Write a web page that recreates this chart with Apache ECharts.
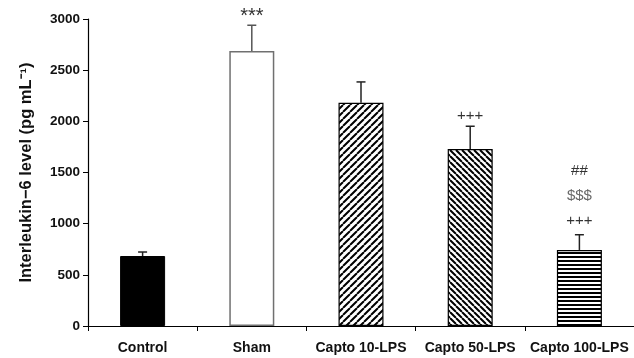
<!DOCTYPE html>
<html><head><meta charset="utf-8">
<script src="https://cdn.jsdelivr.net/npm/echarts@6/dist/echarts.min.js"></script>
<style>html,body{margin:0;padding:0;background:#fff}#c{width:634px;height:358px}</style>
</head><body><div id="c"></div>
<script>
const categories = ['Control', 'Sham', 'Capto 10-LPS', 'Capto 50-LPS', 'Capto 100-LPS'];
const means = [684, 2688, 2182, 1730, 743];
const errors = [39, 251, 203, 222, 149];
const yTicks = { min: 0, max: 3000, interval: 500 };
const annoCategory = [1, 3, 4, 4, 4];
const annoValue = [3050, 2055, 1515, 1271, 1026];
const annoText = ['***', '+++', '##', '$$$', '+++'];

function stripe(kind, p, lw) {
  const c = document.createElement('canvas');
  c.width = p; c.height = p;
  const g = c.getContext('2d');
  g.fillStyle = '#fff'; g.fillRect(0, 0, p, p);
  g.strokeStyle = '#000'; g.lineWidth = lw;
  g.beginPath();
  if (kind === 'h') {
    g.fillStyle = '#000'; g.fillRect(0, 0, p, lw);
  } else if (kind === '/') {
    for (let k = -1; k <= 1; k++) { g.moveTo(k * p, p); g.lineTo(k * p + p, 0); }
    g.stroke();
  } else {
    for (let k = -1; k <= 1; k++) { g.moveTo(k * p, 0); g.lineTo(k * p + p, p); }
    g.stroke();
  }
  return c;
}
const fills = [
  { color: '#000', borderColor: '#000', borderWidth: 1 },
  { color: '#fff', borderColor: '#707070', borderWidth: 1.5 },
  { color: { image: stripe('/', 7, 2), repeat: 'repeat' }, borderColor: '#000', borderWidth: 1.2 },
  { color: { image: stripe('\\', 6, 2), repeat: 'repeat' }, borderColor: '#000', borderWidth: 1.2 },
  { color: { image: stripe('h', 4, 2), repeat: 'repeat' }, borderColor: '#000', borderWidth: 1.2 }
];

const chart = echarts.init(document.getElementById('c'), null, { renderer: 'canvas' });
const font = 'Liberation Sans, Arial, sans-serif';
chart.setOption({
  animation: false,
  grid: { left: 88, top: 19, width: 550, height: 307 },
  xAxis: {
    type: 'category', data: categories,
    axisLine: { lineStyle: { color: '#000', width: 1.2 } },
    axisTick: { show: true, length: 5, lineStyle: { color: '#000' } },
    axisLabel: { interval: 0, color: '#111', fontWeight: 'bold', fontSize: 14, fontFamily: font, margin: 15 }
  },
  yAxis: {
    type: 'value', min: yTicks.min, max: yTicks.max, interval: yTicks.interval,
    name: 'Interleukin−6 level (pg mL⁻¹)', nameLocation: 'middle', nameGap: 53,
    nameTextStyle: { color: '#111', fontWeight: 'bold', fontSize: 16.5, fontFamily: font },
    splitLine: { show: false },
    axisLine: { show: true, lineStyle: { color: '#000', width: 1.2 } },
    axisTick: { show: true, length: 5, lineStyle: { color: '#000' } },
    axisLabel: { color: '#111', fontWeight: 'bold', fontSize: 13.5, fontFamily: font, margin: 8,
      formatter: function (v) { return String(v); } }
  },
  series: [
    {
      type: 'bar', barWidth: 45, z: 2,
      data: means.map((v, i) => ({ value: v, itemStyle: fills[i] }))
    },
    {
      type: 'custom', z: 1, clip: false,
      data: means.map((v, i) => [i, v, v + errors[i]]),
      renderItem: function (params, api) {
        const b = api.coord([api.value(0), api.value(1)]);
        const t = api.coord([api.value(0), api.value(2)]);
        const col = params.dataIndex === 1 ? '#555' : '#222';
        return { type: 'group', children: [
          { type: 'line', shape: { x1: b[0], y1: b[1], x2: t[0], y2: t[1] }, style: { stroke: col, lineWidth: 1.5 } },
          { type: 'line', shape: { x1: t[0] - 4.5, y1: t[1], x2: t[0] + 4.5, y2: t[1] }, style: { stroke: col, lineWidth: 1.5 } }
        ] };
      }
    },
    {
      type: 'custom', z: 3, clip: false,
      data: annoCategory.map((c, i) => [c, annoValue[i], i]),
      renderItem: function (params, api) {
        const p = api.coord([api.value(0), api.value(1)]);
        const txt = annoText[api.value(2)];
        const size = txt === '***' ? 20 : 15;
        return { type: 'text', x: p[0], y: p[1] + (txt === '***' ? 3 : 0), style: {
          text: txt, fill: txt === '$$$' ? '#666' : '#333', font: size + 'px ' + font,
          textAlign: 'center', textVerticalAlign: 'middle' } };
      }
    }
  ]
});
</script></body></html>
